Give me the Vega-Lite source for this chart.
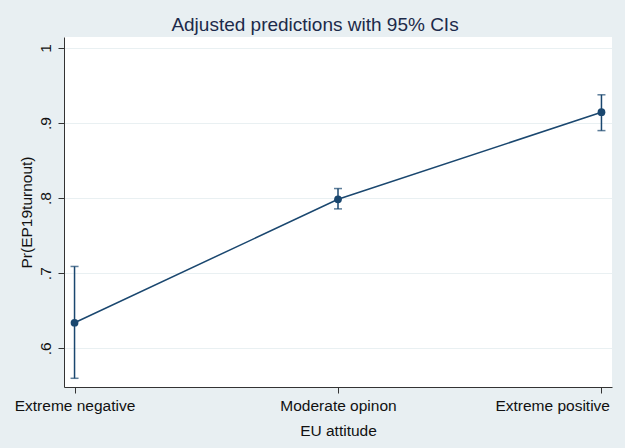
{
  "$schema": "https://vega.github.io/schema/vega-lite/v6.json",
  "width": 548,
  "height": 350,
  "autosize": {"type": "none"},
  "padding": {"left": 64, "top": 37, "right": 13, "bottom": 61},
  "background": "#e8eff2",
  "title": {
    "text": "Adjusted predictions with 95% CIs",
    "font": "Liberation Sans",
    "fontSize": 19,
    "fontWeight": "normal",
    "color": "#1c2a4a",
    "anchor": "middle",
    "frame": "group",
    "baseline": "alphabetic",
    "offset": 7,
    "dx": -23,
    "dy": 20
  },
  "config": {
    "view": {"fill": "white", "stroke": null},
    "font": "Liberation Sans"
  },
  "data": {
    "values": [
      {"attitude": "Extreme negative", "margin": 0.634, "lo": 0.560, "hi": 0.709},
      {"attitude": "Moderate opinon", "margin": 0.7985, "lo": 0.7857, "hi": 0.8128},
      {"attitude": "Extreme positive", "margin": 0.9145, "lo": 0.890, "hi": 0.9377}
    ]
  },
  "encoding": {
    "x": {
      "field": "attitude",
      "type": "nominal",
      "sort": null,
      "scale": {"type": "point", "padding": 0.04},
      "axis": {
        "title": "EU attitude",
        "titleFont": "Liberation Sans",
        "titleFontSize": 15.5,
        "titleFontWeight": "normal",
        "titleColor": "#111111",
        "titlePadding": 10,
        "labelAngle": 0,
        "labelFontSize": 15.5,
        "labelColor": "#111111",
        "labelPadding": 5,
        "labelAlign": {"condition": {"test": "datum.label == 'Extreme positive'", "value": "right"}, "value": "center"},
        "labelOffset": {"condition": {"test": "datum.label == 'Extreme positive'", "value": 8}, "value": 0},
        "tickSize": 6,
        "tickColor": "#333333",
        "domainColor": "#333333",
        "labelOverlap": false,
        "grid": false
      }
    }
  },
  "layer": [
    {
      "mark": {"type": "rule", "color": "#1a476f", "strokeWidth": 1.5},
      "encoding": {
        "y": {
          "field": "lo",
          "type": "quantitative",
          "scale": {"domain": [0.5484, 1.0147], "nice": false, "zero": false},
          "axis": {
            "title": "Pr(EP19turnout)",
            "titleFont": "Liberation Sans",
            "titleFontSize": 15.5,
            "titleFontWeight": "normal",
            "titleColor": "#111111",
            "titlePadding": 4,
            "values": [0.6, 0.7, 0.8, 0.9, 1],
            "labelExpr": "datum.value == 1 ? '1' : replace(format(datum.value, '.1f'), '0.', '.')",
            "labelAngle": -90,
            "labelFontSize": 15.5,
            "labelColor": "#111111",
            "labelPadding": 5,
            "tickSize": 6,
            "tickColor": "#333333",
            "domainColor": "#333333",
            "grid": true,
            "gridColor": "#e9f0f2",
            "gridWidth": 1
          }
        },
        "y2": {"field": "hi"}
      }
    },
    {
      "mark": {"type": "tick", "color": "#1a476f", "thickness": 1.5, "size": 8},
      "encoding": {"y": {"field": "lo", "type": "quantitative"}}
    },
    {
      "mark": {"type": "tick", "color": "#1a476f", "thickness": 1.5, "size": 8},
      "encoding": {"y": {"field": "hi", "type": "quantitative"}}
    },
    {
      "mark": {"type": "line", "color": "#1a476f", "strokeWidth": 1.5},
      "encoding": {"y": {"field": "margin", "type": "quantitative"}}
    },
    {
      "mark": {"type": "point", "filled": true, "opacity": 1, "color": "#1a476f", "size": 60},
      "encoding": {"y": {"field": "margin", "type": "quantitative"}}
    }
  ]
}
